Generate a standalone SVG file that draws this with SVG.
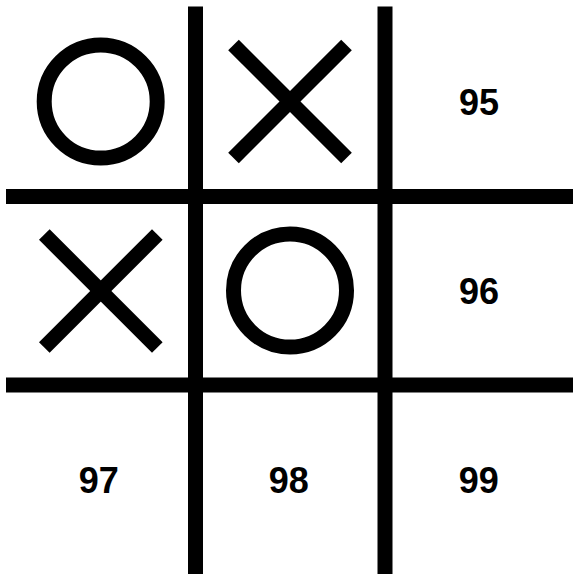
<svg xmlns="http://www.w3.org/2000/svg" width="573" height="574" viewBox="0 0 573 574">
  <style>
    .grid { stroke: #000; stroke-width: 15; }
    .mark { fill: none; stroke: #000; stroke-width: 15; }
    .num { font-family: "Liberation Sans", Arial, sans-serif; font-weight: bold; font-size: 36px; fill: #000; text-anchor: middle; }
  </style>
  <rect x="0" y="0" width="573" height="574" fill="#fff"/>
  <g id="grid-lines">
    <line class="grid" x1="195.5" y1="6.5" x2="195.5" y2="574"/>
    <line class="grid" x1="385" y1="6.5" x2="385" y2="574"/>
    <line class="grid" x1="6" y1="196.5" x2="573" y2="196.5"/>
    <line class="grid" x1="6" y1="385" x2="573" y2="385"/>
  </g>
  <g id="cell-1">
    <circle class="mark" cx="100.7" cy="101.5" r="56.5"/>
  </g>
  <g id="cell-2">
    <line class="mark" x1="233.5" y1="45" x2="346.5" y2="158"/>
    <line class="mark" x1="346.5" y1="45" x2="233.5" y2="158"/>
  </g>
  <g id="cell-3">
    <text class="num" x="479" y="115">95</text>
  </g>
  <g id="cell-4">
    <line class="mark" x1="44.3" y1="234.5" x2="157.3" y2="347.5"/>
    <line class="mark" x1="157.3" y1="234.5" x2="44.3" y2="347.5"/>
  </g>
  <g id="cell-5">
    <circle class="mark" cx="290" cy="290.5" r="56.5"/>
  </g>
  <g id="cell-6">
    <text class="num" x="479" y="304">96</text>
  </g>
  <g id="cell-7">
    <text class="num" x="98.7" y="493">97</text>
  </g>
  <g id="cell-8">
    <text class="num" x="288.8" y="493">98</text>
  </g>
  <g id="cell-9">
    <text class="num" x="478.8" y="493">99</text>
  </g>
</svg>
